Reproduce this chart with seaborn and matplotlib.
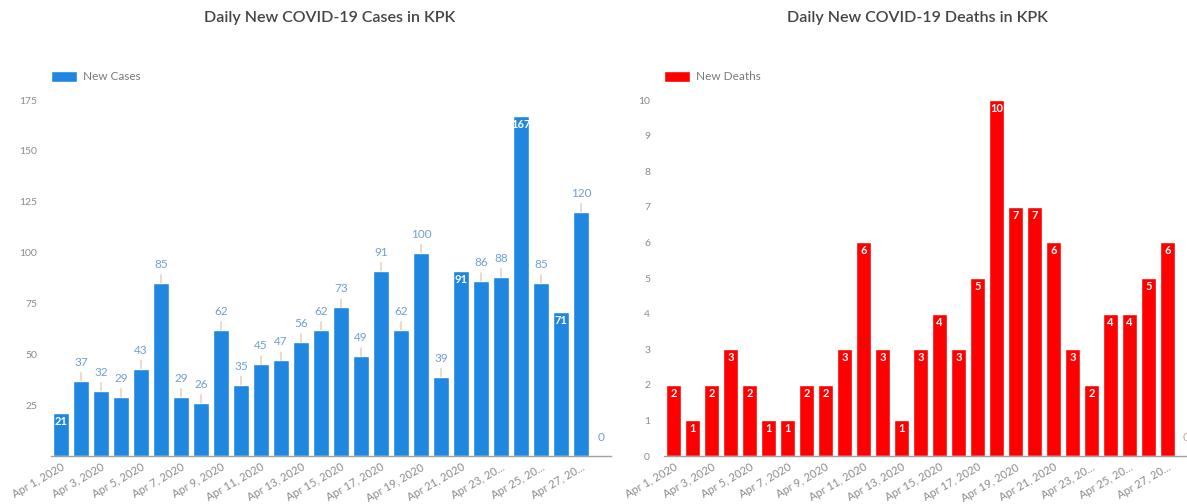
import pandas as pd
import matplotlib.pyplot as plt
import seaborn as sns
from matplotlib.patches import Patch

# daily values, Apr 1 - Apr 28 2020
days = [f"Apr {d}, 2020" for d in range(1, 29)]
new_cases = [21, 37, 32, 29, 43, 85, 29, 26, 62, 35, 45, 47, 56, 62, 73, 49,
             91, 62, 100, 39, 91, 86, 88, 167, 85, 71, 120, 0]
new_deaths = [2, 1, 2, 3, 2, 1, 1, 2, 2, 3, 6, 3, 1, 3, 4, 3,
              5, 10, 7, 7, 6, 3, 2, 4, 4, 5, 6, 0]
tick_labels = ["Apr 1, 2020", "Apr 3, 2020", "Apr 5, 2020", "Apr 7, 2020",
               "Apr 9, 2020", "Apr 11, 2020", "Apr 13, 2020", "Apr 15, 2020",
               "Apr 17, 2020", "Apr 19, 2020", "Apr 21, 2020", "Apr 23, 20...",
               "Apr 25, 20...", "Apr 27, 20..."]

df = pd.DataFrame({"day": days, "cases": new_cases, "deaths": new_deaths})

sns.set_style("white")
plt.rcParams["font.family"] = ["Lato", "DejaVu Sans"]

BLUE = "#1f87e0"
RED = "#ff0000"

fig = plt.figure(figsize=(11.87, 5.04), dpi=100)
W, H = 1187, 504


def px_axes(x0, x1, y_top, y_bot):
    return fig.add_axes([x0 / W, 1 - y_bot / H, (x1 - x0) / W, (y_bot - y_top) / H])


ax1 = px_axes(51, 611, 100, 456)
ax2 = px_axes(664, 1196, 100, 456)


def style_axis(ax, ymax, yticks):
    ax.set_xlim(-0.5, len(days) - 0.5)
    ax.set_ylim(0, ymax)
    ax.set_yticks(yticks)
    ax.set_xticks(range(0, len(days) - 1, 2))
    ax.set_xticklabels(tick_labels, rotation=30, ha="right", rotation_mode="anchor")
    ax.tick_params(axis="both", length=0, labelsize=7.5, colors="#8a8a8a")
    ax.tick_params(axis="x", pad=4, labelsize=8)
    ax.tick_params(axis="y", pad=10)
    ax.set_xlabel("")
    ax.set_ylabel("")
    for s in ["top", "right", "left"]:
        ax.spines[s].set_visible(False)
    ax.spines["bottom"].set_color("#a0a0a0")
    ax.spines["bottom"].set_linewidth(1)


# cases
sns.barplot(data=df, x="day", y="cases", color=BLUE, width=0.8, saturation=1, ax=ax1)
style_axis(ax1, 175, [25, 50, 75, 100, 125, 150, 175])
inside_cases = [0, 20, 23, 25]
for i, v in enumerate(new_cases):
    if i in inside_cases:
        ax1.annotate(str(v), xy=(i, v), xytext=(0, -3), textcoords="offset pixels",
                     ha="center", va="top", color="white", fontsize=8, fontweight="bold")
    elif v == 0:
        ax1.annotate(str(v), xy=(i, v), xytext=(0, 13), textcoords="offset pixels",
                     ha="center", va="bottom", color="#6f9fd3", fontsize=8.5,
                     annotation_clip=False)
    else:
        ax1.annotate(str(v), xy=(i, v), xytext=(0, 13), textcoords="offset pixels",
                     ha="center", va="bottom", color="#6f9fd3", fontsize=8.5,
                     arrowprops=dict(arrowstyle="-", color="#dcc0a6", lw=0.8,
                                     shrinkA=1, shrinkB=0))

# deaths
sns.barplot(data=df, x="day", y="deaths", color=RED, width=0.8, saturation=1, ax=ax2)
style_axis(ax2, 10, list(range(0, 11)))
for i, v in enumerate(new_deaths):
    if v == 0:
        ax2.annotate(str(v), xy=(i, v), xytext=(0, 13), textcoords="offset pixels",
                     ha="center", va="bottom", color="#c9a890", fontsize=8.5,
                     annotation_clip=False)
    else:
        ax2.annotate(str(v), xy=(i, v), xytext=(0, -3), textcoords="offset pixels",
                     ha="center", va="top", color="white", fontsize=8, fontweight="bold")

# titles
fig.text(330 / W, 1 - 18 / H, "Daily New COVID-19 Cases in KPK", ha="center", va="center",
         fontsize=11.5, fontweight="semibold", color="#444444")
fig.text(917 / W, 1 - 18 / H, "Daily New COVID-19 Deaths in KPK", ha="center", va="center",
         fontsize=11.5, fontweight="semibold", color="#444444")

# legends
for ax, col, lab in [(ax1, BLUE, "New Cases"), (ax2, RED, "New Deaths")]:
    ax.legend(handles=[Patch(facecolor=col, label=lab)], loc="lower left",
              bbox_to_anchor=(0, 1.05), frameon=False, fontsize=8.5, handlelength=2.2,
              handleheight=1.1, handletextpad=0.5, borderaxespad=0, borderpad=0,
              labelcolor="#7a7a7a")

fig.savefig("out.png", dpi=100)
